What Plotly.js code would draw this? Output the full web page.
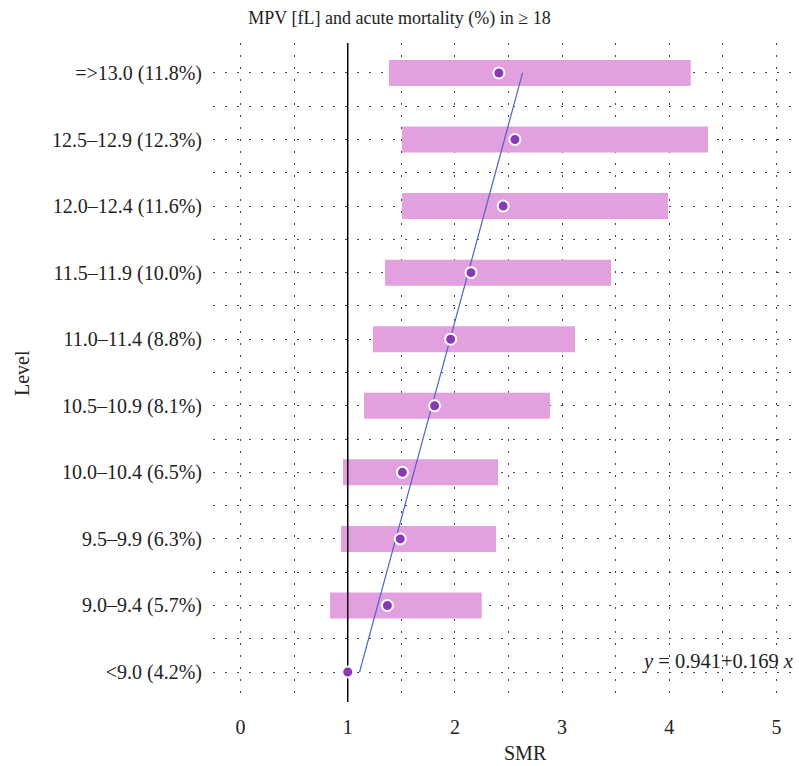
<!DOCTYPE html>
<html>
<head>
<meta charset="utf-8">
<script src="https://cdn.plot.ly/plotly-3.0.1.min.js"></script>
<style>html,body{margin:0;padding:0;background:#fff;}#chart{width:799px;height:766px;}</style>
</head>
<body>
<div id="chart"></div>
<script>
// Levels of MPV (bottom to top) with acute mortality
const levels = ['<9.0 (4.2%)', '9.0–9.4 (5.7%)', '9.5–9.9 (6.3%)', '10.0–10.4 (6.5%)', '10.5–10.9 (8.1%)',
                '11.0–11.4 (8.8%)', '11.5–11.9 (10.0%)', '12.0–12.4 (11.6%)', '12.5–12.9 (12.3%)', '=>13.0 (11.8%)'];
// SMR point estimates
const smr = [1.00, 1.37, 1.49, 1.51, 1.81, 1.96, 2.15, 2.45, 2.56, 2.41];
// confidence interval bounds (reference level has none)
const ciLow  = [null, 0.835, 0.938, 0.956, 1.152, 1.236, 1.348, 1.507, 1.507, 1.385];
const ciHigh = [null, 2.250, 2.384, 2.402, 2.887, 3.120, 3.456, 3.988, 4.361, 4.200];
// fitted line endpoints (first and last level)
const fitLevels = [levels[0], levels[levels.length - 1]];
const fitSMR = [1.110, 2.631];
const fitLabel = '<i>y</i> = 0.941+0.169 <i>x</i>';
const xTicks = [0, 1, 2, 3, 4, 5];

const idx = levels.map((_, i) => i);
const pos = l => levels.indexOf(l);

const FONT = 'Liberation Serif, Times New Roman, serif';
const GRID = '#444';
const DASH = '2px,10px';
const FS = 20;

const yTickVals = [], yTickText = [];
levels.forEach((l, i) => {
  yTickVals.push(i); yTickText.push(l);
  if (i < levels.length - 1) { yTickVals.push(i + 0.5); yTickText.push(''); }
});
const xTickVals = [], xTickText = [];
xTicks.forEach((t, i) => {
  xTickVals.push(t); xTickText.push(String(t));
  if (i < xTicks.length - 1) { xTickVals.push(t + 0.5); xTickText.push(''); }
});

const traces = [
  {
    type: 'bar', orientation: 'h',
    y: idx,
    base: ciLow,
    x: ciHigh.map((h, i) => (h == null || ciLow[i] == null) ? null : h - ciLow[i]),
    width: 0.39,
    marker: {color: '#E2A1DE', line: {width: 0}},
    hoverinfo: 'skip', showlegend: false
  },
  {
    type: 'scatter', mode: 'lines',
    x: [1, 1], y: [-0.6, levels.length - 0.4],
    line: {color: '#000', width: 1.5},
    hoverinfo: 'skip', showlegend: false, cliponaxis: true
  },
  {
    type: 'scatter', mode: 'lines',
    x: fitSMR, y: fitLevels.map(pos),
    line: {color: '#4F63C6', width: 1.2},
    hoverinfo: 'skip', showlegend: false
  },
  {
    type: 'scatter', mode: 'markers',
    x: smr, y: idx,
    marker: {color: '#8739B6', size: 11, line: {color: '#fff', width: 2}},
    showlegend: false
  }
];

const layout = {
  width: 799, height: 766,
  paper_bgcolor: '#fff', plot_bgcolor: '#fff',
  margin: {l: 213, r: 0, t: 43, b: 64},
  font: {family: FONT, size: FS, color: '#222'},
  title: {text: 'MPV [fL] and acute mortality (%) in ≥ 18', font: {family: FONT, size: 18, color: '#222'},
          x: 0.5, xref: 'container', xanchor: 'center', y: 1 - 18 / 766, yref: 'container', yanchor: 'middle'},
  xaxis: {
    range: [-0.257, 5.21], tickmode: 'array', tickvals: xTickVals, ticktext: xTickText,
    showgrid: true, gridcolor: GRID, gridwidth: 1, griddash: DASH,
    zeroline: false, showline: false, ticks: 'outside', ticklen: 7, tickcolor: 'rgba(0,0,0,0)',
    tickfont: {family: FONT, size: FS, color: '#222'}
  },
  yaxis: {
    range: [-0.45, 9.45], tickmode: 'array', tickvals: yTickVals, ticktext: yTickText,
    showgrid: true, gridcolor: GRID, gridwidth: 1, griddash: DASH,
    zeroline: false, showline: false, ticks: 'outside', ticklen: 6, tickcolor: 'rgba(0,0,0,0)',
    tickfont: {family: FONT, size: FS, color: '#222'}
  },
  annotations: [
    {text: 'SMR', xref: 'paper', yref: 'paper', x: (525 - 213) / 586, y: -(753 - 702) / 659,
     xanchor: 'center', yanchor: 'middle', showarrow: false, font: {family: FONT, size: FS, color: '#222'}},
    {text: 'Level', xref: 'paper', yref: 'paper', x: (22 - 213) / 586, y: 1 - (373 - 43) / 659,
     xanchor: 'center', yanchor: 'middle', textangle: -90, showarrow: false, font: {family: FONT, size: FS, color: '#222'}},
    {text: fitLabel, xref: 'paper', yref: 'y', x: 1, y: 0, xanchor: 'right', yanchor: 'bottom',
     xshift: -4, yshift: -3, showarrow: false, font: {family: FONT, size: 20.5, color: '#222'}}
  ]
};

Plotly.newPlot('chart', traces, layout, {displayModeBar: false, staticPlot: true});
</script>
</body>
</html>
